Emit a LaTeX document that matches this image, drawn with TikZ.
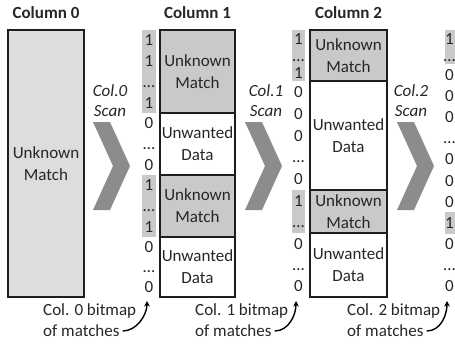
\documentclass[tikz,border=0pt]{standalone}
\usepackage{fontspec}
\setmainfont{Carlito}
\usetikzlibrary{arrows.meta}
\definecolor{txt}{HTML}{262626}
\definecolor{lgray}{HTML}{DCDDDE}
\definecolor{mgray}{HTML}{C9C9C9}
\definecolor{chev}{HTML}{8C8C8C}
\definecolor{edge}{HTML}{1E1E1E}
\begin{document}
\begin{tikzpicture}[x=1pt,y=-1pt,
  every node/.style={text=txt, font=\fontsize{17}{22}\selectfont, inner sep=0pt},
  seg/.style={draw=edge, line width=1.6pt, align=center},
  head/.style={font=\fontsize{17}{20}\selectfont\bfseries},
  scanlbl/.style={font=\fontsize{17}{20}\selectfont\itshape, align=center},
  bit/.style={anchor=base},
  hl/.style={fill=mgray},
  chevron/.style={fill=chev},
  lbl/.style={anchor=west},
  conn/.style={draw=black, line width=1.4pt, -{Stealth[length=5.5pt,width=5.5pt]}}
]
\useasboundingbox (0,0) rectangle (455,343);

% headers
\node[head] (h0) at (46,13) {Column 0};
\node[head] (h1) at (197.5,13) {Column 1};
\node[head] (h2) at (348.5,13) {Column 2};

% column 0
\node[seg, fill=lgray, minimum width=76pt, minimum height=267pt] (c0) at (46,163.5) {Unknown\\Match};

% column 1
\node[seg, fill=mgray, minimum width=75pt, minimum height=83pt] (c1a) at (197.5,71.5) {Unknown\\Match};
\node[seg, fill=white, minimum width=75pt, minimum height=62pt] (c1b) at (197.5,144) {Unwanted\\Data};
\node[seg, fill=mgray, minimum width=75pt, minimum height=62pt] (c1c) at (197.5,206) {Unknown\\Match};
\node[seg, fill=white, minimum width=75pt, minimum height=60pt] (c1d) at (197.5,267) {Unwanted\\Data};

% column 2
\node[seg, fill=mgray, minimum width=77pt, minimum height=51pt] (c2a) at (348.5,55.5) {Unknown\\Match};
\node[seg, fill=white, minimum width=77pt, minimum height=109pt] (c2b) at (348.5,135.5) {Unwanted\\Data};
\node[seg, fill=mgray, minimum width=77pt, minimum height=43pt] (c2c) at (348.5,211.5) {Unknown\\Match};
\node[seg, fill=white, minimum width=77pt, minimum height=64pt] (c2d) at (348.5,265) {Unwanted\\Data};

% chevrons
\fill[chevron] (93,122) -- (110,122) -- (130,166) -- (110,210) -- (93,210) -- (113,166) -- cycle;
\fill[chevron] (245,122) -- (262,122) -- (282,166) -- (262,210) -- (245,210) -- (265,166) -- cycle;
\fill[chevron] (397,122) -- (414,122) -- (434,166) -- (414,210) -- (397,210) -- (417,166) -- cycle;

% scan labels
\node[scanlbl] (s0) at (110,101) {Col.0\\Scan};
\node[scanlbl] (s1) at (266,101) {Col.1\\Scan};
\node[scanlbl] (s2) at (411,101) {Col.2\\Scan};

% bitmap highlights
\fill[hl] (142,30) rectangle (156,113);
\fill[hl] (142,175) rectangle (156,237);
\fill[hl] (292,30) rectangle (305,81);
\fill[hl] (292,190) rectangle (305,233);
\fill[hl] (445,30) rectangle (456,64);
\fill[hl] (445,212.3) rectangle (456,233.5);

% bitmap 0
\foreach \y/\t [count=\i] in {40.4/1, 61.1/1, 81.9/…, 102.6/1, 123.3/0, 144/…, 164.7/0, 185.3/1, 206/…, 226.7/1, 247/0, 267/…, 287/0}
  \node[bit] (b0-\i) at (149,\y+5.5) {\t};
% bitmap 1
\foreach \y/\t [count=\i] in {38.5/1, 55.5/…, 72.5/1, 91.9/0, 113.7/0, 135.5/0, 157.3/…, 179.1/0, 200.75/1, 222.25/…, 243.7/0, 265/…, 286.3/0}
  \node[bit] (b1-\i) at (298.5,\y+5.5) {\t};
% bitmap 2
\foreach \y/\t [count=\i] in {38.5/1, 55.5/…, 74.6/0, 95.8/0, 117/0, 138.1/…, 159.3/0, 180.5/0, 201.7/0, 222.9/1, 244.1/0, 265.3/…, 286.4/0}
  \node[bit] (b2-\i) at (449.5,\y+5.5) {\t};

% bitmap labels
\node[lbl] (l0a) at (43,311) {Col. 0 bitmap};
\node[lbl] (l0b) at (43,331) {of matches};
\node[lbl] (l1a) at (195,311) {Col. 1 bitmap};
\node[lbl] (l1b) at (195,331) {of matches};
\node[lbl] (l2a) at (347,311) {Col. 2 bitmap};
\node[lbl] (l2b) at (347,331) {of matches};

\coordinate (t0) at (147,301);
\coordinate (t1) at (296,301);
\coordinate (t2) at (447,301);

\draw[conn] ([xshift=3pt]l0b.east) .. controls +(14,0) and +(0,14) .. (t0);
\draw[conn] ([xshift=3pt]l1b.east) .. controls +(14,0) and +(0,14) .. (t1);
\draw[conn] ([xshift=3pt]l2b.east) .. controls +(14,0) and +(0,14) .. (t2);
\end{tikzpicture}
\end{document}
